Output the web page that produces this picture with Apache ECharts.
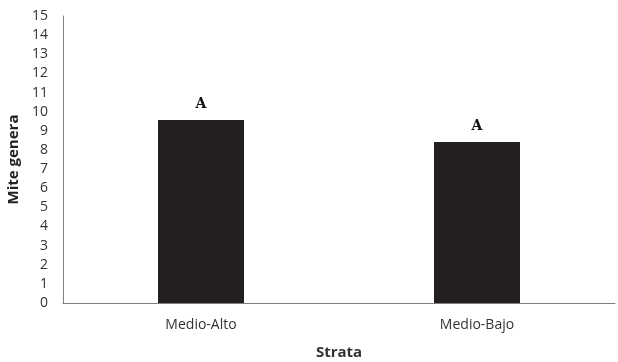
<!DOCTYPE html>
<html>
<head>
<meta charset="utf-8">
<script src="https://cdn.jsdelivr.net/npm/echarts@6/dist/echarts.min.js"></script>
<style>
  html, body { margin: 0; padding: 0; background: #fff; }
  #chart { width: 618px; height: 362px; }
</style>
</head>
<body>
<div id="chart"></div>
<script>
const categories = ['Medio-Alto', 'Medio-Bajo']
const values = [9.57, 8.42]
const letters = ['A', 'A']

const chart = echarts.init(document.getElementById('chart'))
const font = '"Open Sans", "Liberation Sans", sans-serif'
chart.setOption({
  backgroundColor: '#fff',
  animation: false,
  grid: {
    left: 63,
    right: 3,
    top: 16,
    bottom: 59,
    outerBoundsMode: 'none',
    containLabel: false
  },
  xAxis: {
    type: 'category',
    data: categories,
    name: 'Strata',
    nameLocation: 'middle',
    nameGap: 42,
    nameTextStyle: { fontFamily: font, fontSize: 15, fontWeight: 'bold', color: '#333' },
    axisLine: { lineStyle: { color: '#7f7f7f', width: 1 } },
    axisTick: { show: false },
    axisLabel: { fontFamily: font, fontSize: 14, color: '#333', margin: 15 }
  },
  yAxis: {
    type: 'value',
    min: 0,
    max: 15,
    interval: 1,
    name: 'Mite genera',
    nameLocation: 'middle',
    nameGap: 41,
    nameTextStyle: { fontFamily: font, fontSize: 15, fontWeight: 'bold', color: '#222' },
    axisLine: { show: true, lineStyle: { color: '#7f7f7f', width: 1 } },
    axisTick: { show: false },
    splitLine: { show: false },
    axisLabel: { fontFamily: font, fontSize: 14, color: '#333', margin: 15 }
  },
  series: [{
    type: 'bar',
    data: values,
    barWidth: 86,
    itemStyle: { color: '#231f20' },
    label: {
      show: true,
      position: 'top',
      distance: 9,
      formatter: p => letters[p.dataIndex],
      fontFamily: '"DejaVu Serif", "Liberation Serif", serif',
      fontWeight: 'bold',
      fontSize: 14,
      color: '#111'
    }
  }]
})
</script>
</body>
</html>
